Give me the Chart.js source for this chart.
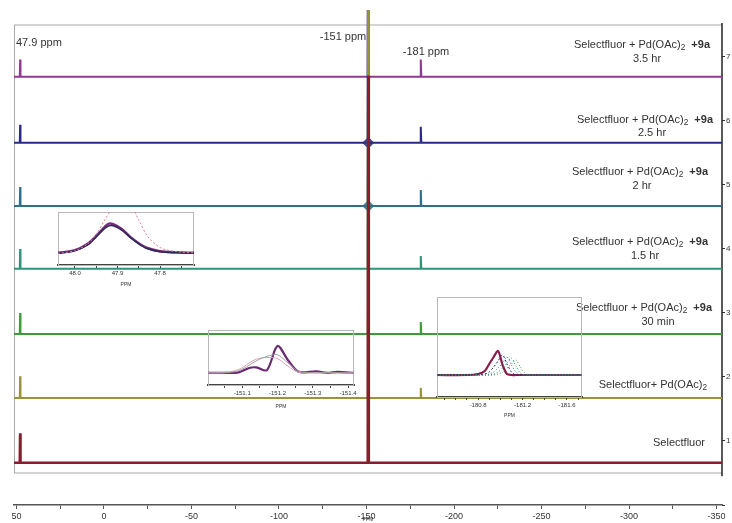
<!DOCTYPE html>
<html>
<head>
<meta charset="utf-8">
<script src="https://cdn.jsdelivr.net/npm/chart.js@4.4.0/dist/chart.umd.min.js"></script>
<style>
  html, body { margin: 0; padding: 0; background: #fff; }
  #wrap { position: relative; width: 732px; height: 523px; }
  #wrap canvas { position: absolute; }
</style>
</head>
<body>
<div id="wrap">
  <canvas id="main" width="732" height="523" style="left:0;top:0;width:732px;height:523px"></canvas>
  <canvas id="insetA" width="148" height="76" style="left:52px;top:212px;width:148px;height:76px"></canvas>
  <canvas id="insetB" width="162" height="80" style="left:200px;top:330px;width:162px;height:80px"></canvas>
  <canvas id="insetC" width="160" height="122" style="left:430px;top:297px;width:160px;height:122px"></canvas>
</div>
<script>
// stacked 19F spectra, bottom to top
const sampleNames = ['Selectfluor', 'Selectfluor+ Pd(OAc)', 'Selectfluor + Pd(OAc)', 'Selectfluor + Pd(OAc)',
                     'Selectfluor + Pd(OAc)', 'Selectfluor + Pd(OAc)', 'Selectfluor + Pd(OAc)'];
const sampleTimes = ['', '', '30 min', '1.5 hr', '2 hr', '2.5 hr', '3.5 hr'];
const hasLigand = [false, false, true, true, true, true, true];
const baselineOffsets = [0.66, 1.67, 2.67, 3.69, 4.67, 5.66, 6.69];

const peakPositions = [47.9, -151, -181];
const peak479 = [0.46, 0.34, 0.33, 0.31, 0.30, 0.28, 0.27];
const peak151 = [6.05, 7.5, 7.5, 7.5, 7.5, 7.5, 7.5];
const peak151Base = [0, 0, 0, 0, 6, 6, 2.5];
const peak181 = [0, 0.16, 0.19, 0.20, 0.25, 0.25, 0.27];

const xTicks = [50, 0, -50, -100, -150, -200, -250, -300, -350];

// expanded regions
const insetAppm = [48.04, 48.00, 47.97, 47.95, 47.93, 47.92, 47.91, 47.89, 47.87, 47.85, 47.83, 47.80, 47.76, 47.72];
const insetApurple = [0.23, 0.28, 0.40, 0.55, 0.72, 0.78, 0.77, 0.68, 0.53, 0.41, 0.32, 0.26, 0.24, 0.23];
const insetAnavy = [0.22, 0.27, 0.38, 0.53, 0.69, 0.74, 0.74, 0.66, 0.52, 0.40, 0.31, 0.25, 0.23, 0.22];
const insetApink = [0.22, 0.27, 0.40, 0.58, 0.85, 0.98, 1.10, 1.25, 1.15, 0.85, 0.55, 0.33, 0.25, 0.23];

const insetBppm = [-151.00, -151.05, -151.09, -151.12, -151.14, -151.17, -151.20, -151.23, -151.26, -151.31, -151.34, -151.37, -151.42];
const insetBpurple = [0.22, 0.22, 0.23, 0.31, 0.32, 0.27, 0.71, 0.45, 0.24, 0.25, 0.22, 0.24, 0.22];
const insetBgray = [0.22, 0.22, 0.26, 0.36, 0.44, 0.52, 0.55, 0.40, 0.25, 0.22, 0.23, 0.22, 0.22];
const insetBpink = [0.22, 0.23, 0.28, 0.40, 0.47, 0.50, 0.48, 0.34, 0.23, 0.22, 0.22, 0.22, 0.22];

const insetCppm = [-180.43, -180.70, -180.80, -180.86, -180.90, -180.94, -180.98, -181.02, -181.06,
                   -181.10, -181.14, -181.18, -181.22, -181.26, -181.30, -181.40, -181.73];
const insetCpurple = [0.22, 0.22, 0.23, 0.26, 0.33, 0.40, 0.46, 0.32, 0.23, 0.22, 0.22, 0.22, 0.22, 0.22, 0.22, 0.22, 0.22];
const insetCnavy = [0.22, 0.22, 0.22, 0.23, 0.25, 0.30, 0.36, 0.42, 0.33, 0.25, 0.22, 0.22, 0.22, 0.22, 0.22, 0.22, 0.22];
const insetCteal = [0.22, 0.22, 0.22, 0.22, 0.23, 0.25, 0.29, 0.34, 0.40, 0.32, 0.25, 0.22, 0.22, 0.22, 0.22, 0.22, 0.22];
const insetCtealgreen = [0.22, 0.22, 0.22, 0.22, 0.22, 0.23, 0.25, 0.29, 0.34, 0.39, 0.31, 0.24, 0.22, 0.22, 0.22, 0.22, 0.22];
const insetCgreen = [0.22, 0.22, 0.22, 0.22, 0.22, 0.22, 0.23, 0.25, 0.29, 0.33, 0.37, 0.30, 0.24, 0.22, 0.22, 0.22, 0.22];

const colors = ['#8a1c2c', '#9a9236', '#3f9a3a', '#2f9478', '#2f6f8c', '#2a2a86', '#8e3a8e'];
const FONT = 'Liberation Sans, Arial, sans-serif';

function spectrumPoints(i) {
  const b = baselineOffsets[i];
  const pts = [{ x: 51.4, y: b }];
  pts.push({ x: 48.1, y: b }, { x: peakPositions[0], y: b + peak479[i] }, { x: 47.7, y: b });
  pts.push({ x: -150.7, y: b }, { x: peakPositions[1], y: b + peak151[i] }, { x: -151.3, y: b });
  if (peak181[i] > 0) {
    pts.push({ x: -180.7, y: b }, { x: peakPositions[2], y: b + peak181[i] }, { x: -181.3, y: b });
  }
  pts.push({ x: -353.1, y: b });
  return pts;
}

const datasets = sampleNames.map((name, i) => ({
  label: name + ' ' + sampleTimes[i],
  data: spectrumPoints(i),
  borderColor: colors[i],
  borderWidth: i === 0 ? 2.6 : 2,
  pointRadius: 0,
  tension: 0
}));

// broadened foot of the -151 ppm signal where it meets each baseline
datasets.push({
  label: 'foot',
  data: baselineOffsets.map(b => ({ x: peakPositions[1], y: b })),
  showLine: false,
  pointStyle: 'rectRot',
  pointRadius: peak151Base,
  pointBorderWidth: 0,
  pointBackgroundColor: colors.map(c => c + 'dd')
});

function drawRich(ctx, parts, xRight, y, size) {
  let total = 0;
  const widths = parts.map(p => {
    ctx.font = (p.bold ? 'bold ' : '') + (p.sub ? size * 0.75 : size) + 'px ' + FONT;
    const w = ctx.measureText(p.t).width;
    total += w;
    return w;
  });
  let x = xRight - total;
  parts.forEach((p, k) => {
    ctx.font = (p.bold ? 'bold ' : '') + (p.sub ? size * 0.75 : size) + 'px ' + FONT;
    ctx.fillText(p.t, x, y + (p.sub ? 3 : 0));
    x += widths[k];
  });
}

// where each sample caption sits: right edge of first line, its y, centre and y of the time line
const captionSpots = [
  { r: 705, y: 443 }, { r: 707, y: 385 },
  { r: 712, y: 308, cx: 658, y2: 322 }, { r: 708, y: 242, cx: 645, y2: 256 },
  { r: 708, y: 172, cx: 642, y2: 186 }, { r: 713, y: 120, cx: 652, y2: 133 },
  { r: 710, y: 45, cx: 647, y2: 59 }
];

const decor = {
  id: 'decor',
  beforeDatasetsDraw(chart) {
    const { ctx } = chart;
    const y = chart.scales.y;
    const l = chart.chartArea.left, r = chart.chartArea.right;
    const top = y.getPixelForValue(7.5), bot = y.getPixelForValue(0.5);
    ctx.save();
    ctx.strokeStyle = '#d4d4d4';
    ctx.lineWidth = 2;
    ctx.beginPath();
    ctx.moveTo(l, top); ctx.lineTo(r, top);
    ctx.moveTo(l, bot); ctx.lineTo(r, bot);
    ctx.stroke();
    ctx.strokeStyle = '#a8a8a8';
    ctx.lineWidth = 1;
    ctx.beginPath();
    ctx.moveTo(l + 0.5, top); ctx.lineTo(l + 0.5, bot);
    ctx.stroke();
    ctx.strokeStyle = '#222';
    ctx.lineWidth = 1.5;
    ctx.beginPath();
    ctx.moveTo(r, top - 2); ctx.lineTo(r, y.getPixelForValue(0.45));
    ctx.stroke();
    ctx.restore();
  },
  afterDraw(chart) {
    const { ctx } = chart;
    const x = chart.scales.x;
    ctx.save();
    ctx.fillStyle = '#333';
    ctx.textBaseline = 'middle';
    ctx.font = '11px ' + FONT;
    ctx.textAlign = 'left';
    ctx.fillText(peakPositions[0] + ' ppm', 16, 43);
    ctx.textAlign = 'right';
    ctx.fillText(peakPositions[1] + ' ppm', x.getPixelForValue(peakPositions[1]) - 2, 37);
    ctx.textAlign = 'left';
    ctx.fillText(peakPositions[2] + ' ppm', x.getPixelForValue(peakPositions[2]) - 18, 52);

    sampleNames.forEach((name, i) => {
      const s = captionSpots[i];
      const parts = [{ t: name }];
      if (name.indexOf('Pd') >= 0) parts.push({ t: '2', sub: true });
      if (hasLigand[i]) parts.push({ t: '  +9a', bold: true });
      ctx.textAlign = 'left';
      drawRich(ctx, parts, s.r, s.y, 11);
      if (sampleTimes[i]) {
        ctx.font = '11px ' + FONT;
        ctx.textAlign = 'center';
        ctx.fillText(sampleTimes[i], s.cx, s.y2);
      }
    });
    ctx.restore();
  }
};

new Chart(document.getElementById('main'), {
  type: 'line',
  data: { datasets },
  options: {
    responsive: false,
    animation: false,
    layout: { padding: { left: 14, top: 10, right: 0, bottom: 0 } },
    plugins: { legend: { display: false }, tooltip: { enabled: false } },
    scales: {
      x: {
        type: 'linear',
        reverse: true,
        min: -353.1,
        max: 51.4,
        afterFit: s => { s.height = 18; },
        border: { display: true, color: '#555', width: 1.5 },
        grid: { drawOnChartArea: false, drawTicks: true, tickLength: 4, color: '#555' },
        ticks: {
          stepSize: 25,
          includeBounds: false,
          maxRotation: 0,
          autoSkip: false,
          padding: 2,
          color: '#333',
          font: { family: FONT, size: 9 },
          callback: v => (xTicks.includes(v) ? String(v) : '')
        },
        title: { display: true, text: 'PPM', padding: 0, color: '#333', font: { family: FONT, size: 5 } }
      },
      y: {
        position: 'right',
        min: 0,
        max: 7.734,
        afterFit: s => { s.width = 10; },
        border: { display: false },
        grid: { drawOnChartArea: false, drawTicks: true, tickLength: 3, color: '#333' },
        ticks: {
          stepSize: 1,
          includeBounds: false,
          padding: 1,
          color: '#333',
          font: { family: FONT, size: 8 },
          callback: v => (v >= 1 ? String(v) : '')
        }
      }
    }
  },
  plugins: [decor]
});

// expanded views of the three peaks
const boxOutline = {
  id: 'boxOutline',
  beforeDatasetsDraw(chart) {
    const a = chart.chartArea;
    const ctx = chart.ctx;
    ctx.save();
    ctx.strokeStyle = '#b8b8b8';
    ctx.lineWidth = 1;
    ctx.strokeRect(a.left + 0.5, a.top + 0.5, a.right - a.left - 1, a.bottom - a.top);
    ctx.restore();
  }
};

function insetChart(id, ppm, curves, range, pad, axisHeight, step, labelEvery) {
  new Chart(document.getElementById(id), {
    type: 'line',
    data: {
      datasets: curves.map(c => ({
        data: c.values.map((v, k) => ({ x: ppm[k], y: v })),
        borderColor: c.color,
        borderWidth: c.width,
        borderDash: c.dash || [],
        pointRadius: 0,
        tension: 0.3
      }))
    },
    options: {
      responsive: false,
      animation: false,
      layout: { padding: { left: pad[0], right: pad[1], top: 0, bottom: 0 } },
      plugins: { legend: { display: false }, tooltip: { enabled: false } },
      scales: {
        x: {
          type: 'linear',
          reverse: true,
          min: range[0],
          max: range[1],
          afterFit: s => { s.height = axisHeight; },
          border: { display: true, color: '#444', width: 2 },
          grid: { drawOnChartArea: false, drawTicks: true, tickLength: 3, color: '#444' },
          ticks: {
            stepSize: step,
            includeBounds: false,
            autoSkip: false,
            maxRotation: 0,
            padding: 2,
            color: '#333',
            font: { family: FONT, size: 6 },
            callback: v => {
              const n = Math.round(v * 10);
              return Math.abs(v * 10 - n) < 1e-6 && n % labelEvery === 0 ? (n / 10).toFixed(1) : '';
            }
          },
          title: { display: true, text: 'PPM', padding: 0, color: '#333', font: { family: FONT, size: 5 } }
        },
        y: { display: false, min: 0, max: 1 }
      }
    },
    plugins: [boxOutline]
  });
}

insetChart('insetA', insetAppm, [
  { values: insetApink, color: '#e07a96', width: 1, dash: [2, 2] },
  { values: insetAnavy, color: '#2a2a5a', width: 1.5 },
  { values: insetApurple, color: '#7a2c7a', width: 2.5 }
], [47.72, 48.04], [6, 6], 23, 0.05, 1);

insetChart('insetB', insetBppm, [
  { values: insetBgray, color: '#a0a0a0', width: 1 },
  { values: insetBpink, color: '#e0a0b8', width: 1 },
  { values: insetBpurple, color: '#6a2a72', width: 2.2 }
], [-151.417, -151.003], [8, 8], 25, 0.05, 1);

insetChart('insetC', insetCppm, [
  { values: insetCgreen, color: '#3f9a3a', width: 1, dash: [1, 2] },
  { values: insetCtealgreen, color: '#2f9478', width: 1, dash: [1, 2] },
  { values: insetCteal, color: '#2f6f8c', width: 1, dash: [1, 2] },
  { values: insetCnavy, color: '#2a2a86', width: 1, dash: [2, 2] },
  { values: insetCpurple, color: '#8a1c4c', width: 2.2 }
], [-181.735, -180.43], [7, 8], 22, 0.1, 4);
</script>
</body>
</html>
